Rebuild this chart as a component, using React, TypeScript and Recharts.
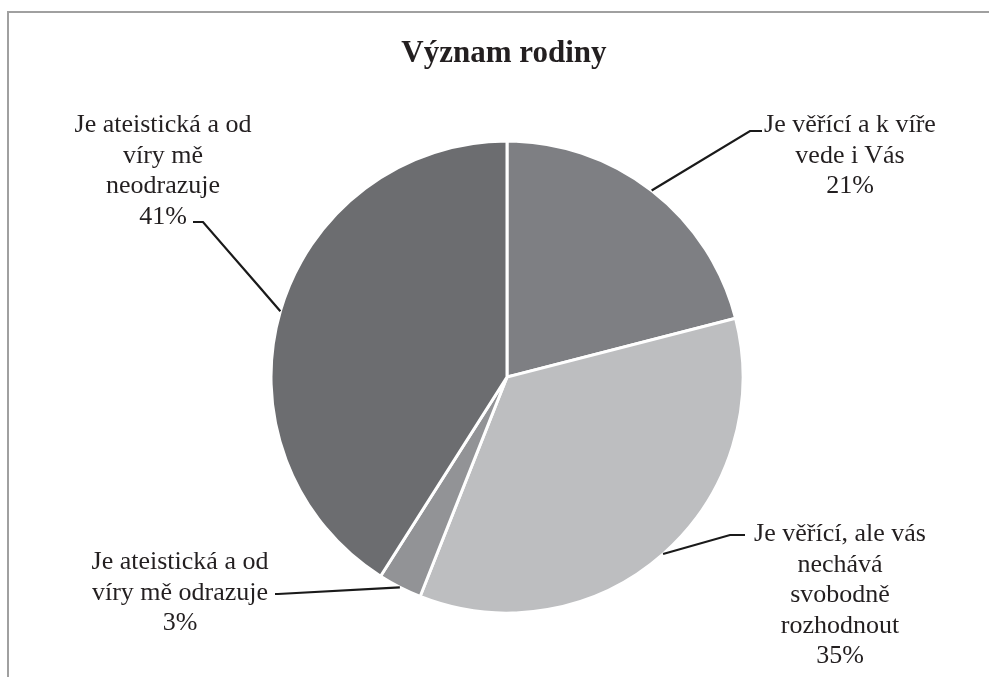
import React from "react";
import { PieChart, Pie, Cell } from "recharts";

// ---- data ----
const categories = [
  "Je věřící a k víře vede i Vás",
  "Je věřící, ale vás nechává svobodně rozhodnout",
  "Je ateistická a od víry mě odrazuje",
  "Je ateistická a od víry mě neodrazuje",
];
const values = [21, 35, 3, 41];
const labelLines = [
  ["Je věřící a k víře", "vede i Vás"],
  ["Je věřící, ale vás", "nechává", "svobodně", "rozhodnout"],
  ["Je ateistická a od", "víry mě odrazuje"],
  ["Je ateistická a od", "víry mě", "neodrazuje"],
];
const title = "Význam rodiny";

// ---- style / layout ----
const colors = ["#7e7f83", "#bdbec0", "#929396", "#6c6d70"];
const labelLayout = [
  { tx: 842, ty: 115, ex: 742, ey: 123, endX: 754 },
  { tx: 832, ty: 524, ex: 722, ey: 527, endX: 737 },
  { tx: 172, ty: 552, ex: 270, ey: 586, endX: 267 },
  { tx: 155, ty: 115, ex: 195, ey: 214, endX: 185 },
];
const FONT = "'Liberation Serif', 'Times New Roman', serif";
const LINE_H = 30.5;
const RAD = Math.PI / 180;

const data = categories.map((name, i) => ({ name, value: values[i] }));

const renderLabel = (props: any) => {
  const { cx, cy, midAngle, outerRadius, index, percent } = props;
  const lay = labelLayout[index];
  const sx = cx + outerRadius * Math.cos(-midAngle * RAD);
  const sy = cy + outerRadius * Math.sin(-midAngle * RAD);
  const lines: string[] = [...labelLines[index], `${Math.round((percent ?? 0) * 100)}%`];
  return (
    <g key={`lbl-${index}`}>
      <polyline
        points={`${sx},${sy} ${lay.ex},${lay.ey} ${lay.endX},${lay.ey}`}
        fill="none"
        stroke="#1a1a1a"
        strokeWidth={2.2}
      />
      <text
        x={lay.tx}
        y={lay.ty}
        textAnchor="middle"
        fontFamily={FONT}
        fontSize={26}
        fill="#231f20"
        style={{ fontFamily: FONT, fontSize: 26 }}
      >
        {lines.map((l, i) => (
          <tspan key={i} x={lay.tx} y={lay.ty + i * LINE_H} dy="0.35em" style={{ fontFamily: FONT }}>
            {l}
          </tspan>
        ))}
      </text>
    </g>
  );
};

export default function App() {
  return (
    <div style={{ position: "relative", width: 973, height: 661, background: "#fff", fontFamily: FONT }}>
      <div
        style={{
          position: "fixed",
          left: 7,
          top: 11,
          width: 1200,
          height: 1000,
          border: "2px solid #a0a0a0",
          boxSizing: "border-box",
          pointerEvents: "none",
        }}
      />
      <div
        style={{
          position: "absolute",
          left: 0,
          width: 992,
          top: 26,
          textAlign: "center",
          fontFamily: FONT,
          fontWeight: "bold",
          fontSize: 31,
          lineHeight: "36px",
          color: "#231f20",
        }}
      >
        {title}
      </div>
      <div style={{ position: "absolute", left: 0, top: 0 }}>
        <PieChart width={973} height={661} margin={{ top: 0, right: 0, bottom: 0, left: 0 }}>
          <Pie
            data={data}
            dataKey="value"
            nameKey="name"
            cx={499}
            cy={369}
            outerRadius={236}
            startAngle={90}
            endAngle={-270}
            stroke="#ffffff"
            strokeWidth={3}
            label={renderLabel}
            labelLine={false}
            isAnimationActive={false}
          >
            {data.map((d, i) => (
              <Cell key={d.name} fill={colors[i]} />
            ))}
          </Pie>
        </PieChart>
      </div>
    </div>
  );
}
